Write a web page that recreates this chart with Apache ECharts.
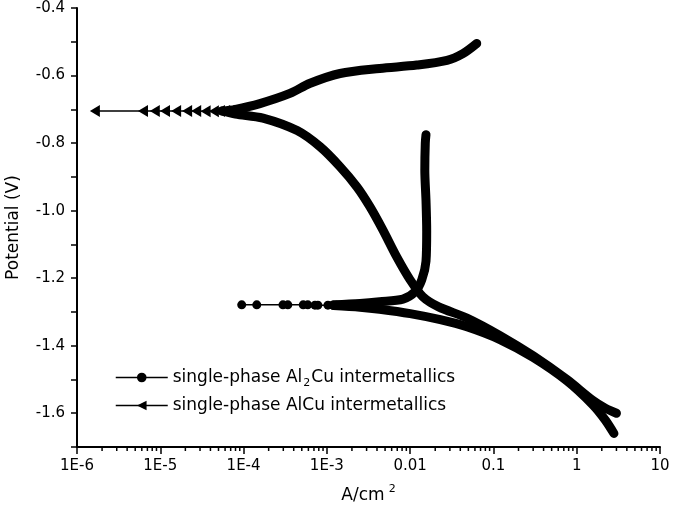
<!DOCTYPE html>
<html>
<head>
<meta charset="utf-8">
<script src="https://cdn.jsdelivr.net/npm/echarts@6/dist/echarts.min.js"></script>
<style>
  html, body { margin: 0; padding: 0; background: #fff; }
  #chart { width: 675px; height: 511px; }
</style>
</head>
<body>
<div id="chart"></div>
<script>
// current density (A/cm2) and potential (V)
var alcuTailI = [1.64e-6, 6.2e-6, 8.6e-6, 1.14e-5, 1.55e-5, 2.1e-5, 2.7e-5, 3.5e-5, 4.4e-5, 5.2e-5, 6.0e-5, 6.8e-5, 7.6e-5, 8.5e-5, 9.5e-5];
var alcuTailE = [-0.705, -0.705, -0.705, -0.705, -0.705, -0.705, -0.705, -0.706, -0.706, -0.705, -0.705, -0.704, -0.704, -0.703, -0.702];

var alcuAnodicI = [5.5e-5, 8e-5, 1.57e-4, 3.6e-4, 6.3e-4, 1.44e-3, 4.3e-3, 0.012, 0.0277, 0.043, 0.063];
var alcuAnodicE = [-0.705, -0.700, -0.683, -0.653, -0.623, -0.594, -0.579, -0.569, -0.555, -0.535, -0.505];

var alcuCathodicI = [5.5e-5, 8e-5, 1.71e-4, 4.4e-4, 8.3e-4, 1.44e-3, 2.3e-3, 3.3e-3, 4.7e-3, 6.9e-3, 0.010, 0.0142, 0.022, 0.048, 0.12, 0.30, 0.76, 1.56, 2.2, 3.0];
var alcuCathodicE = [-0.705, -0.714, -0.726, -0.763, -0.811, -0.870, -0.930, -0.989, -1.057, -1.137, -1.205, -1.255, -1.285, -1.318, -1.37, -1.43, -1.50, -1.562, -1.585, -1.60];

var al2cuTailI = [9.5e-5, 1.44e-4, 2.97e-4, 3.4e-4, 5.2e-4, 5.9e-4, 7.2e-4, 7.8e-4, 1.03e-3, 1.18e-3, 1.3e-3];
var al2cuTailE = [-1.279, -1.279, -1.279, -1.279, -1.279, -1.279, -1.28, -1.28, -1.28, -1.28, -1.28];

var al2cuAnodicI = [1.2e-3, 2.5e-3, 4.3e-3, 8.2e-3, 0.0115, 0.0138, 0.0155, 0.0158, 0.0155, 0.015, 0.0152, 0.0155];
var al2cuAnodicE = [-1.279, -1.275, -1.27, -1.262, -1.24, -1.205, -1.15, -1.06, -0.97, -0.88, -0.80, -0.775];

var al2cuCathodicI = [1.2e-3, 2.5e-3, 4.3e-3, 0.010, 0.023, 0.048, 0.12, 0.30, 0.76, 1.56, 2.2, 2.8];
var al2cuCathodicE = [-1.281, -1.286, -1.292, -1.305, -1.323, -1.344, -1.382, -1.435, -1.504, -1.575, -1.62, -1.66];

var xTickLabels = ['1E-6', '1E-5', '1E-4', '1E-3', '0.01', '0.1', '1', '10'];
var minorMultipliers = [2, 3, 4, 5, 6, 7, 8, 9];
var decades = [1e-6, 1e-5, 1e-4, 1e-3, 1e-2, 1e-1, 1];

var nameAl2Cu = 'single-phase Al2Cu intermetallics';
var nameAlCu = 'single-phase AlCu intermetallics';
var FONT = 'DejaVu Sans';

function pairs(xs, ys) {
  var out = [];
  for (var i = 0; i < xs.length; i++) out.push([xs[i], ys[i]]);
  return out;
}

// minor ticks of the log axis (2..9 in each decade)
var minorTicks = [];
decades.forEach(function (d) {
  minorMultipliers.forEach(function (m) { minorTicks.push([m * d, -1.7]); });
});

function thick(name, xs, ys) {
  return {
    name: name,
    type: 'line',
    data: pairs(xs, ys),
    showSymbol: false,
    symbol: 'none',
    smooth: 0.3,
    lineStyle: { color: '#000', width: 9, cap: 'round', join: 'round' },
    z: 2,
    silent: true
  };
}

var chart = echarts.init(document.getElementById('chart'));

var option = {
  animation: false,
  backgroundColor: '#fff',
  grid: { left: 77, right: 15, top: 8, bottom: 64, containLabel: false, outerBoundsMode: 'none' },
  legend: {
    data: [nameAl2Cu, nameAlCu],
    orient: 'vertical',
    left: 110,
    top: 364,
    itemWidth: 52,
    itemHeight: 12,
    itemGap: 8,
    lineStyle: { width: 1.5 },
    textStyle: {
      color: '#000',
      fontFamily: FONT,
      fontSize: 17,
      rich: {
        t: { fontFamily: FONT, fontSize: 17, color: '#000' },
        sub: { fontFamily: FONT, fontSize: 11, color: '#000', padding: [12, 1, 0, 1] }
      }
    },
    formatter: function (n) {
      if (n === nameAl2Cu) return '{t|single-phase Al}{sub|2}{t|Cu intermetallics}';
      return '{t|' + n + '}';
    }
  },
  xAxis: {
    type: 'log',
    logBase: 10,
    min: 1e-6,
    max: 10,
    splitNumber: 7,
    name: 'A/cm{sup|2}',
    nameLocation: 'middle',
    nameGap: 37,
    nameTextStyle: {
      color: '#000', fontFamily: FONT, fontSize: 17,
      rich: { sup: { fontFamily: FONT, fontSize: 11, color: '#000', padding: [0, 0, 12, 4] } }
    },
    axisLine: { show: true, lineStyle: { color: '#000', width: 2 } },
    axisTick: { show: true, inside: false, length: 7, lineStyle: { color: '#000', width: 1.5 } },
    axisLabel: {
      color: '#000', fontFamily: FONT, fontSize: 15, margin: 12,
      showMinLabel: true, showMaxLabel: true,
      formatter: function (v) {
        return xTickLabels[Math.round(Math.log10(v)) + 6];
      }
    },
    splitLine: { show: false }
  },
  yAxis: {
    type: 'value',
    min: -1.7,
    max: -0.4,
    interval: 0.1,
    name: 'Potential (V)',
    nameLocation: 'middle',
    nameGap: 55,
    nameTextStyle: { color: '#000', fontFamily: FONT, fontSize: 17 },
    axisLine: { show: true, lineStyle: { color: '#000', width: 2 } },
    axisTick: { show: true, inside: false, length: 6, lineStyle: { color: '#000', width: 1.5 } },
    axisLabel: {
      color: '#000', fontFamily: FONT, fontSize: 15, margin: 12,
      formatter: function (v) {
        return Math.round(v * 10) % 2 === 0 ? v.toFixed(1) : '';
      }
    },
    splitLine: { show: false }
  },
  series: [
    thick('AlCu anodic', alcuAnodicI, alcuAnodicE),
    thick('AlCu cathodic', alcuCathodicI, alcuCathodicE),
    thick('Al2Cu anodic', al2cuAnodicI, al2cuAnodicE),
    thick('Al2Cu cathodic', al2cuCathodicI, al2cuCathodicE),
    {
      name: nameAl2Cu,
      type: 'line',
      data: pairs(al2cuTailI, al2cuTailE),
      symbol: 'circle',
      symbolSize: 9,
      showSymbol: true,
      showAllSymbol: true,
      itemStyle: { color: '#000' },
      lineStyle: { color: '#000', width: 1.5 },
      z: 3
    },
    {
      name: nameAlCu,
      type: 'line',
      data: pairs(alcuTailI, alcuTailE),
      symbol: 'triangle',
      symbolRotate: 90,
      symbolSize: [12, 10],
      showSymbol: true,
      showAllSymbol: true,
      itemStyle: { color: '#000' },
      lineStyle: { color: '#000', width: 1.5 },
      z: 3
    },
    {
      name: 'minor ticks',
      type: 'custom',
      silent: true,
      clip: false,
      data: minorTicks,
      renderItem: function (params, api) {
        var p = api.coord([api.value(0), api.value(1)]);
        return {
          type: 'line',
          shape: { x1: p[0], y1: p[1], x2: p[0], y2: p[1] + 4 },
          style: { stroke: '#000', lineWidth: 1.5 }
        };
      },
      z: 5
    }
  ]
};

chart.setOption(option);
</script>
</body>
</html>
